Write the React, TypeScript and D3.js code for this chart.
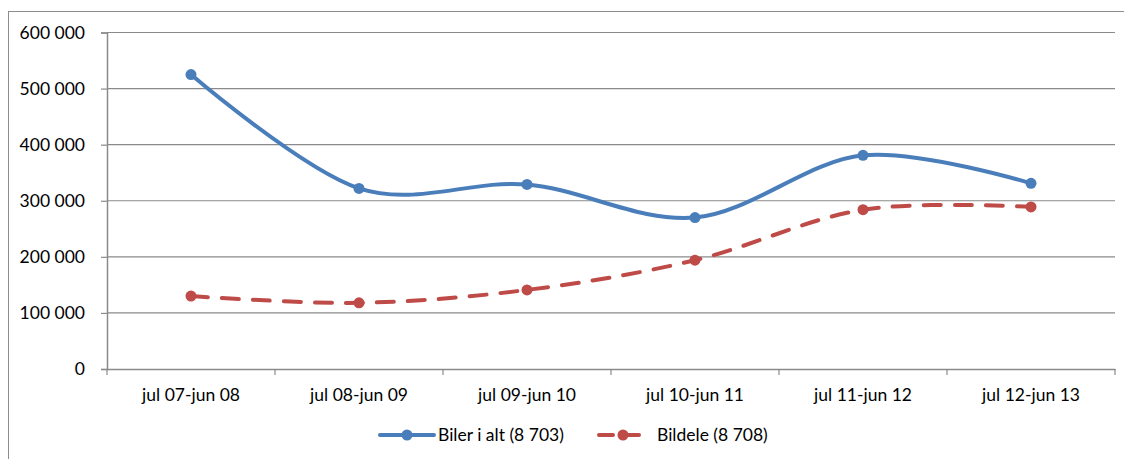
import React, { useEffect, useRef } from 'react';
import * as d3 from 'd3';

const categories = ['jul 07-jun 08', 'jul 08-jun 09', 'jul 09-jun 10', 'jul 10-jun 11', 'jul 11-jun 12', 'jul 12-jun 13'];
const bilerValues = [525000, 322000, 329000, 270000, 381000, 331000];
const bildeleValues = [130000, 118000, 141000, 194000, 284000, 289000];
const yTicks = [0, 100000, 200000, 300000, 400000, 500000, 600000];

const seriesNames = ['Biler i alt (8 703)', 'Bildele (8 708)'];

const width = 1124;
const height = 459;
const FONT = 'Lato, "Open Sans", sans-serif';
const FONT_SIZE = '17.5px';

const App: React.FC = () => {
  const svgRef = useRef<SVGSVGElement>(null);

  useEffect(() => {
    if (!svgRef.current) return;
    const svg = d3.select(svgRef.current);
    svg.selectAll('*').remove();

    const margin = { top: 32.5, right: 9, bottom: 90, left: 107 };
    const innerWidth = width - margin.left - margin.right;
    const innerHeight = height - margin.top - margin.bottom;

    // chart area border (runs off the picture at right and bottom)
    svg.append('rect')
      .attr('x', 8.5)
      .attr('y', 11.5)
      .attr('width', 1130)
      .attr('height', 470)
      .attr('fill', '#fff')
      .attr('stroke', '#8c8c8c')
      .attr('stroke-width', 1);

    const x = d3.scaleBand<string>()
      .domain(categories)
      .range([0, innerWidth]);

    const y = d3.scaleLinear()
      .domain([0, 600000])
      .range([innerHeight, 0]);

    const g = svg.append('g')
      .attr('transform', `translate(${margin.left},${margin.top})`);

    // gridlines
    g.selectAll('.grid')
      .data(yTicks.filter(d => d > 0))
      .enter()
      .append('line')
      .attr('x1', 0)
      .attr('x2', innerWidth)
      .attr('y1', d => y(d))
      .attr('y2', d => y(d))
      .attr('stroke', '#8a8a8a')
      .attr('stroke-width', 1.2);

    const fmt = (v: number) => d3.format(',')(v).replace(/,/g, ' ');

    // y axis
    const yAxis = g.append('g')
      .call(d3.axisLeft(y).tickValues(yTicks).tickSize(6).tickPadding(16).tickFormat(d => fmt(+d)));
    yAxis.select('.domain').attr('stroke', '#8a8a8a').attr('stroke-width', 1.5);
    yAxis.selectAll('.tick line').attr('stroke', '#8a8a8a').attr('stroke-width', 1.2);
    yAxis.selectAll('text')
      .style('font-family', FONT)
      .style('font-size', FONT_SIZE)
      .attr('fill', '#000');

    // x axis
    const xAxis = g.append('g')
      .attr('transform', `translate(0,${innerHeight})`)
      .call(d3.axisBottom(x).tickSize(0).tickPadding(20));
    xAxis.select('.domain').attr('stroke', '#8a8a8a').attr('stroke-width', 1.5);
    xAxis.selectAll('.tick line').remove();
    xAxis.selectAll('text')
      .style('font-family', FONT)
      .style('font-size', FONT_SIZE)
      .attr('fill', '#000');

    // category boundary ticks
    const bounds = d3.range(categories.length + 1).map(i => i * x.step());
    g.selectAll('.xtick')
      .data(bounds)
      .enter()
      .append('line')
      .attr('x1', d => d)
      .attr('x2', d => d)
      .attr('y1', innerHeight)
      .attr('y2', innerHeight + 6)
      .attr('stroke', '#8a8a8a')
      .attr('stroke-width', 1.2);

    const cx = (c: string) => (x(c) || 0) + x.bandwidth() / 2;

    const line = d3.line<number>()
      .x((_, i) => cx(categories[i]))
      .y(d => y(d))
      .curve(d3.curveCardinal.tension(0));

    const series = [
      { values: bilerValues, color: '#4a7ebb', dash: null as string | null },
      { values: bildeleValues, color: '#be4b48', dash: '17 14' },
    ];

    series.forEach(s => {
      g.append('path')
        .datum(s.values)
        .attr('d', line)
        .attr('fill', 'none')
        .attr('stroke', s.color)
        .attr('stroke-width', 4)
        .attr('stroke-linecap', 'round')
        .attr('stroke-dasharray', s.dash);

      g.selectAll(null)
        .data(s.values)
        .enter()
        .append('circle')
        .attr('cx', (_, i) => cx(categories[i]))
        .attr('cy', d => y(d))
        .attr('r', 5.5)
        .attr('fill', s.color);
    });

    // legend
    const legendItems = [
      { x0: 380, x1: 434, tx: 438, ...series[0], name: seriesNames[0] },
      { x0: 599, x1: 647, tx: 657, ...series[1], name: seriesNames[1] },
    ];
    const ly = 435;
    legendItems.forEach(item => {
      const lg = svg.append('g');
      lg.append('line')
        .attr('x1', item.x0)
        .attr('x2', item.x1)
        .attr('y1', ly)
        .attr('y2', ly)
        .attr('stroke', item.color)
        .attr('stroke-width', 4)
        .attr('stroke-linecap', 'round')
        .attr('stroke-dasharray', item.dash ? '14 12' : null);
      lg.append('circle')
        .attr('cx', (item.x0 + item.x1) / 2)
        .attr('cy', ly)
        .attr('r', 5.5)
        .attr('fill', item.color);
      lg.append('text')
        .attr('x', item.tx)
        .attr('y', ly)
        .attr('dy', '0.35em')
        .style('font-family', FONT)
        .style('font-size', FONT_SIZE)
        .attr('fill', '#000')
        .text(item.name);
    });
  }, []);

  return (
    <svg
      ref={svgRef}
      width={width}
      height={height}
      style={{ position: 'absolute', left: 0, top: 0, display: 'block', background: '#fff' }}
    />
  );
};

export default App;
